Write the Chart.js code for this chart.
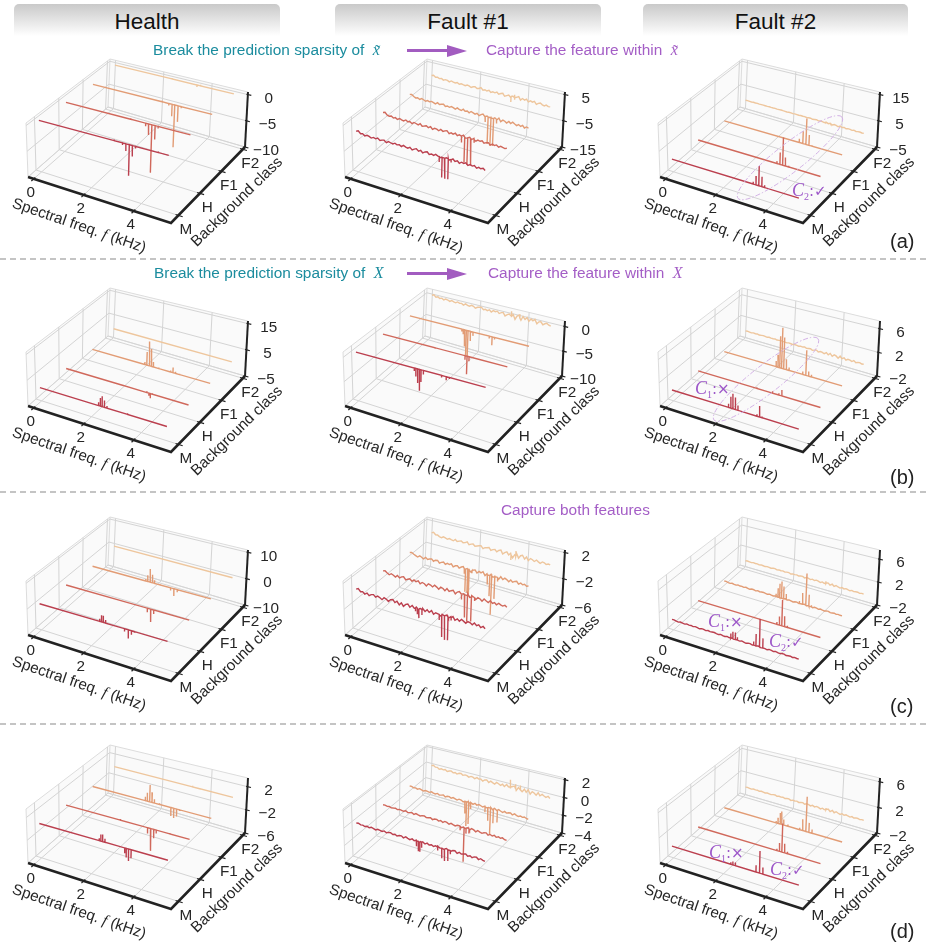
<!DOCTYPE html>
<html>
<head>
<meta charset="utf-8">
<script src="https://cdn.jsdelivr.net/npm/chart.js@4"></script>
<style>
  html, body { margin: 0; padding: 0; background: #fff; }
  body { position: relative; width: 926px; height: 944px; overflow: hidden; font-family: "Liberation Sans", Arial, sans-serif; }
  canvas { position: absolute; }
  .head { position: absolute; top: 4px; height: 32px; line-height: 36px; text-align: center; font-size: 22.5px; color: #111;
    border-radius: 5px 5px 0 0; background: linear-gradient(#c9c9c9, #fff); }
  .sep { position: absolute; left: 0; width: 926px; height: 0; border-top: 2px dashed #c4c4c4; }
  .cap { position: absolute; font-size: 15.4px; line-height: 18px; white-space: nowrap; transform: translateY(-50%); }
  .teal { color: #1b8c9e; }
  .pur { color: #a45ec6; }
  .cap i { font-family: "Liberation Serif", serif; font-size: 16px; }
  .line { position: absolute; left: 407px; width: 40px; height: 3px; background: #a25cc0; }
  .tip { position: absolute; left: 447px; width: 0; height: 0; border-left: 20px solid #a25cc0; border-top: 6px solid transparent; border-bottom: 6px solid transparent; }
  .tag { position: absolute; left: 890px; font-size: 20px; color: #222; transform: translateY(-50%); }
  .note { position: absolute; font-family: "DejaVu Sans", sans-serif; font-size: 15px; color: #9d57c9; white-space: nowrap; transform: translateY(-50%); }
  .note i { font-family: "Liberation Serif", serif; font-size: 18px; }
  .note sub { font-family: "Liberation Serif", serif; font-size: 10px; }
</style>
</head>
<body>
<div class="head" style="left:14px;width:266px">Health</div>
<div class="head" style="left:335px;width:266px">Fault #1</div>
<div class="head" style="left:643px;width:265px">Fault #2</div>

<div class="sep" style="top:258px"></div>
<div class="sep" style="top:491px"></div>
<div class="sep" style="top:723px"></div>

<div class="cap teal" style="left:153px;top:50px">Break the prediction sparsity of &nbsp;<i>x&#771;</i></div>
<div class="line" style="top:49px"></div><div class="tip" style="top:45px"></div>
<div class="cap pur" style="left:486px;top:50px">Capture the feature within &nbsp;<i>x&#771;</i></div>
<div class="cap teal" style="left:154px;top:273px">Break the prediction sparsity of &nbsp;<i>X</i></div>
<div class="line" style="top:272px"></div><div class="tip" style="top:268px"></div>
<div class="cap pur" style="left:488px;top:273px">Capture the feature within &nbsp;<i>X</i></div>
<div class="cap pur" style="left:501px;top:510px">Capture both features</div>

<div class="tag" style="top:241px">(a)</div>
<div class="tag" style="top:477px">(b)</div>
<div class="tag" style="top:706px">(c)</div>
<div class="tag" style="top:931px">(d)</div>

<div class="note" style="left:792px;top:191px"><i>C</i><sub>2</sub>:&#10003;</div>
<div class="note" style="left:695px;top:389px"><i>C</i><sub>1</sub>:&#215;</div>
<div class="note" style="left:708px;top:622px"><i>C</i><sub>1</sub>:&#215;</div>
<div class="note" style="left:769px;top:642px"><i>C</i><sub>2</sub>:&#10003;</div>
<div class="note" style="left:709px;top:853px"><i>C</i><sub>1</sub>:&#215;</div>
<div class="note" style="left:770px;top:870px"><i>C</i><sub>2</sub>:&#10003;</div>

<script>
const freqTicks = [0, 2, 4];
const classLabels = ["M", "H", "F1", "F2"];
const classColors = ["#bb3f4e", "#d0685b", "#e29c75", "#eec69d"];

// spectrum peaks, [freq kHz, amplitude]
const a1M = [[3.22, -0.4], [3.35, -1.3], [3.48, -5.7], [3.6, -2], [3.72, -0.4], [2.9, 0.2], [4.6, 0.2]];
const a1H = [[3.2, -0.6], [3.32, -2.1], [3.45, -9], [3.58, -2.6], [3.7, -0.4], [2.6, 0.2]];
const a1F1 = [[3.18, -0.4], [3.32, -2.3], [3.43, -8.2], [3.57, -3.1], [3.7, -0.3], [2.9, 0.2]];
const a1F2 = [[3.45, -0.4], [3.6, 0.2], [2.4, 0.2]];

const a2M = [[3.22, -2], [3.33, -7.4], [3.44, -7.6], [3.57, -7.4], [3.68, -1]];
const a2H = [[3.17, -2.4], [3.3, -9.6], [3.42, -10.2], [3.55, -10], [3.68, -1.2]];
const a2F1 = [[3.18, -2.2], [3.3, -10.4], [3.42, -10.8], [3.53, -10.6], [3.65, -1.6]];
const a2F2 = [[3.35, -2], [3.5, 1.2]];

const a3M = [[3.2, 0.8], [3.31, 3.3], [3.42, 7.2], [3.54, 3.6], [3.65, 0.8]];
const a3H = [[3.22, 0.9], [3.34, 4.5], [3.45, 10.4], [3.56, 3.2], [3.7, 0.5]];
const a3F1 = [[3.18, 1.5], [3.33, 4.8], [3.46, 10], [3.59, 4], [3.72, 0.4]];
const a3F2 = [[3.4, 0.5], [3.6, 0.4]];

const b1M = [[2.31, 1.2], [2.38, 3], [2.45, 3.9], [2.54, 2.6], [2.64, 0.8], [3.45, 0.4]];
const b1H = [[2.3, 0.3], [3.3, 0.5], [3.38, -1], [3.44, -1.8], [3.52, 0.3]];
const b1F1 = [[2.23, 1], [2.31, 5.2], [2.41, 9.6], [2.5, 6.9], [2.59, 2], [2.82, 0.4], [3.32, 0.6], [3.42, 2], [3.53, 0.6], [3.7, 0.3]];
const b1F2 = [];

const b2M = [[2.25, -0.6], [2.31, -1.6], [2.38, -2.8], [2.45, -4.2], [2.51, -2.4], [2.6, -0.8], [3.3, -0.4], [3.48, -0.7], [3.6, -0.3]];
const b2H = [[2.1, -0.2], [3.3, -0.8], [3.38, -3.6], [3.46, -0.9]];
const b2F1 = [[2.18, -0.5], [2.24, -1], [2.3, -3.5], [2.37, -5.2], [2.44, -5.4], [2.54, -2], [2.65, -0.8], [3.33, -0.5], [3.45, -1.7], [3.55, -0.4]];
const b2F2 = [[3.35, 1], [3.7, 0.8]];

const b3M = [[2.23, 0.6], [2.32, 1.9], [2.4, 2.5], [2.5, 2], [2.6, 0.8], [3.35, 0.3], [3.45, 1.8], [3.55, 0.2]];
const b3H = [[2.4, 0.2], [3.04, 0.3], [3.3, 0.3], [3.42, 1]];
const b3F1 = [[2.2, 1], [2.28, 2.2], [2.35, 5.5], [2.43, 7.1], [2.52, 5.5], [2.63, 1.8], [2.75, 0.5], [3.33, 0.5], [3.46, 4.3], [3.58, 0.8], [3.7, 0.4]];
const b3F2 = [];

const c1M = [[2.35, 1], [2.42, 2.5], [2.49, 2.5], [2.58, 1.2], [3.32, -1], [3.47, -3.2], [3.59, -1.5], [3.7, -0.4]];
const c1H = [[3.3, -1.5], [3.44, -4.8], [3.56, -1.5]];
const c1F1 = [[2.25, 0.8], [2.33, 2.5], [2.43, 5.2], [2.53, 3.2], [2.62, 1.2], [2.85, 0.3], [3.3, -1], [3.44, -2.8], [3.58, -1]];
const c1F2 = [];

const c2M = [[2.3, -0.5], [2.37, -0.9], [2.43, -1.4], [2.55, -0.8], [3.22, -0.8], [3.32, -3.2], [3.43, -3.5], [3.56, -3.4], [3.68, -0.4]];
const c2H = [[3.17, -0.8], [3.3, -3.4], [3.41, -3.9], [3.57, -3.7], [3.7, -0.5]];
const c2F1 = [[2.3, -0.8], [2.35, -3.6], [2.44, -3.7], [2.5, -3.8], [2.62, -0.4], [3.27, -1.5], [3.37, -3.2], [3.45, -6], [3.58, -3.4], [3.7, -0.6]];
const c2F2 = [[3.35, -0.8], [3.55, 0.8]];

const c3M = [[2.32, 0.8], [2.4, 1.2], [2.5, 1.2], [2.58, 0.5], [3.22, 0.6], [3.31, 2], [3.45, 4.7], [3.58, 1.6]];
const c3H = [[3.22, 0.4], [3.32, 1.5], [3.42, 4.5], [3.53, 1.8], [3.65, 0.3]];
const c3F1 = [[2.2, 0.5], [2.28, 1.6], [2.35, 2.5], [2.43, 3], [2.52, 2.2], [2.63, 1], [3.19, 0.4], [3.32, 2], [3.46, 5.6], [3.59, 2], [3.7, 0.3]];
const c3F2 = [[3.4, 0.4]];

const d1M = [[2.33, 0.4], [2.39, 1.1], [2.46, 1.2], [2.55, 0.6], [3.32, -0.9], [3.38, -1.5], [3.47, -2], [3.57, -1.4]];
const d1H = [[3.3, -1], [3.43, -3.8], [3.55, -1.5], [3.65, -0.6], [2.2, 0.2], [4.2, 0.15]];
const d1F1 = [[2.22, 0.7], [2.3, 1.5], [2.4, 3], [2.5, 1.8], [2.6, 0.7], [2.82, 0.2], [3.3, -1.5], [3.42, -1.7], [3.54, -1.3], [3.66, -0.2]];
const d1F2 = [[3.3, 0.2], [3.6, 0.15]];

const d2M = [[2.34, -0.6], [2.41, -1.1], [2.47, -1.1], [2.54, -0.6], [3.16, -0.4], [3.32, -1.1], [3.43, -1.3], [3.56, -1.2], [3.65, -0.4]];
const d2H = [[3.12, -0.4], [3.28, -3.8], [3.36, -0.6], [3.48, -0.5]];
const d2F1 = [[2.33, -1.4], [2.4, -2.8], [2.49, -2.5], [2.57, -0.7], [3.18, -0.6], [3.3, -1.5], [3.41, -3], [3.53, -1.6], [3.7, -1.4]];
const d2F2 = [[3.33, 0.9], [3.55, 0.5], [3.75, 0.5]];

const d3M = [[2.32, 0.3], [2.4, 0.5], [2.5, 0.5], [3.31, 1], [3.45, 3.3], [3.58, 1]];
const d3H = [[3.22, 0.3], [3.32, 1.3], [3.42, 4.4], [3.53, 1.4], [3.65, 0.3]];
const d3F1 = [[2.2, 0.3], [2.28, 0.9], [2.37, 1.8], [2.43, 2.1], [2.52, 0.9], [2.7, 0.3], [3.2, 0.3], [3.32, 1.8], [3.46, 5.5], [3.59, 1.5], [3.72, 0.6]];
const d3F2 = [[3.4, 0.3]];

// low level ripple of the noisy traces, one value per noiseFreq entry
const noiseFreq = [0, 0.08, 0.17, 0.25, 0.33, 0.42, 0.5, 0.58, 0.67, 0.75, 0.83, 0.92, 1, 1.08, 1.17, 1.25, 1.33, 1.42, 1.5, 1.58, 1.67, 1.75, 1.83, 1.92, 2, 2.08, 2.17, 2.25, 2.33, 2.42, 2.5, 2.58, 2.67, 2.75, 2.83, 2.92, 3, 3.08, 3.17, 3.25, 3.33, 3.42, 3.5, 3.58, 3.67, 3.75, 3.83, 3.92, 4, 4.08, 4.17, 4.25, 4.33, 4.42, 4.5, 4.58, 4.67, 4.75, 4.83, 4.92, 5];
const flat = [];

const a2NoiseM = [0.7, 1.1, 0.2, 0.5, -0.2, 0.3, 0.1, -0.3, 0.2, -0.1, 0.4, -0.3, 0.1, 0.3, -0.4, 0.2, 0, -0.2, 0.3, -0.1, 0.2, -0.3, 0.4, 0, -0.2, 0.3, -0.4, 0.1, 0.5, -0.2, 0.3, -0.4, 0.2, 0.5, -0.3, 0.1, -0.2, 0.4, 0, -0.3, 0.2, -0.1, 0.3, -0.4, 0.1, 0.5, -0.2, 0.3, -0.4, 0.2, 0, 0.4, -0.3, 0.2, -0.1, 0.3, -0.4, 0.1, -0.2, 0.2, -0.4];
const a2NoiseH = [0.9, 1.2, 0.3, 0.1, 0.4, -0.2, 0.2, -0.3, 0.3, 0, -0.2, 0.4, -0.1, 0.2, -0.4, 0.3, 0.1, -0.2, 0.5, -0.3, 0, 0.3, -0.2, 0.4, -0.4, 0.2, 0.1, -0.3, 0.4, -0.1, 0.3, 0.6, -0.3, 0.2, -0.1, 0.5, -0.2, 0.3, 0, 0.6, -0.3, 0.2, 0.4, -0.2, 0.5, -0.4, 0.2, 0, 0.4, -0.3, 0.1, 0.3, -0.4, 0.2, -0.1, 0.3, -0.3, 0.2, 0, -0.2, 0.1];
const a2NoiseF1 = [0.8, 1, 0.4, 0, 0.3, -0.2, 0.4, 0.1, -0.3, 0.2, -0.1, 0.3, 0, -0.3, 0.4, -0.1, 0.2, 0.4, -0.3, 0.1, -0.2, 0.3, 0.1, -0.3, 0.4, 0, -0.2, 0.5, -0.1, 0.2, -0.3, 0.4, 0.1, -0.2, 0.3, -0.4, 0.2, 0.6, -0.2, 0.3, 0, 0.5, -0.1, 0.4, -0.3, 0.7, -0.5, 0.3, 0.1, -0.4, 0.4, -0.2, 0.5, 0, -0.4, 0.2, -0.3, 0.3, -0.5, 0.1, -0.2];
const a2NoiseF2 = [0.5, 0.8, 0.2, 0.4, 0, 0.3, -0.2, 0.2, 0.1, -0.3, 0.3, 0, -0.1, 0.3, -0.2, 0.2, 0, -0.2, 0.3, 0.1, -0.3, 0.2, 0.4, -0.1, 0.1, 0.7, -0.2, 0.2, -0.1, 0.4, -0.3, 0.2, 0, 0.5, -0.2, 0.3, 0.6, -0.4, 0.1, 0.5, -0.2, 0.5, -0.8, 0.4, 0.9, -0.3, 0.5, 0.1, 0.7, -0.2, 0.4, 0.1, 0.6, -0.4, 0.2, 0.5, 0, -0.2, 0.3, -0.1, 0];

const b2NoiseF2 = [0.3, 0.5, 0.1, 0.3, 0, 0.2, -0.1, 0.2, 0.1, -0.1, 0.2, 0, -0.1, 0.2, 0, 0.1, -0.2, 0.2, 0, -0.1, 0.2, 0.1, -0.2, 0.1, 0.2, 0.3, -0.1, 0.1, -0.1, 0.2, -0.2, 0.2, 0.1, 0.3, -0.1, 0.2, 0.3, -0.3, 0.1, 0.3, 0, 0.4, -0.5, 0.3, 0.6, -0.4, 0.5, 0, 0.5, -0.2, 0.4, 0.1, 0.5, -0.3, 0.2, 0.3, -0.2, 0.1, 0.3, 0, -0.1];
const b3NoiseF2 = [0, 0.05, 0, -0.05, 0.05, 0, 0.05, -0.05, 0, 0.05, 0, -0.05, 0.05, 0, 0, 0.05, -0.05, 0, 0.05, 0, 0, -0.05, 0.05, 0, -0.05, 0.05, 0, -0.05, 0.05, 0, 0.1, -0.05, 0.05, 0.1, -0.1, 0.05, 0.15, -0.1, 0.1, 0.05, -0.1, 0.2, -0.1, 0.25, -0.15, 0.2, 0.1, -0.2, 0.25, -0.1, 0.15, -0.15, 0.1, 0.05, -0.1, 0.15, -0.1, 0.05, 0.1, -0.05, 0];

const c2NoiseM = [0.3, 0.5, 0.1, 0.2, -0.1, 0.15, -0.15, 0.1, 0.2, -0.1, 0.15, 0, -0.2, 0.2, 0.05, -0.2, 0.15, 0.3, -0.1, 0.2, -0.25, 0.15, -0.3, 0.1, 0.25, -0.15, 0.2, -0.1, 0.15, -0.25, 0.1, 0.2, -0.15, 0.2, -0.1, 0.25, -0.2, 0.1, 0.05, -0.2, 0.15, 0, 0.2, -0.15, 0.15, 0.25, -0.2, 0.1, -0.15, 0.2, 0, -0.2, 0.15, 0.05, -0.15, 0.2, -0.1, 0.1, -0.2, 0.05, -0.2];
const c2NoiseH = [0.3, 0.4, 0.15, -0.05, 0.2, 0.05, -0.15, 0.2, -0.1, 0.15, 0.25, -0.15, 0.05, 0.2, -0.1, 0.2, 0, 0.25, -0.15, 0.15, 0.05, -0.2, 0.2, 0.1, -0.1, 0.25, 0.05, -0.2, 0.2, 0.1, -0.15, 0.25, -0.1, 0.1, 0.25, -0.2, 0.15, 0.3, -0.1, 0.15, 0.05, 0.3, -0.15, 0.2, 0.05, -0.2, 0.15, 0.05, -0.2, 0.2, 0, -0.15, 0.2, -0.1, 0.1, -0.15, 0.15, 0, -0.1, 0.1, -0.1];
const c2NoiseF1 = [0.3, 0.4, 0.2, 0.05, -0.1, 0.2, 0.05, -0.15, 0.2, -0.05, 0.1, 0.2, -0.1, 0.15, 0.2, -0.15, 0.05, 0.2, -0.1, 0.15, 0.05, 0.25, -0.15, 0.1, 0.2, -0.1, 0.15, 0.3, -0.1, 0.15, 0.2, -0.25, 0.15, 0.25, -0.15, 0.2, 0.05, 0.3, -0.2, 0.15, 0, 0.25, -0.1, 0.2, 0.05, -0.2, 0.25, -0.1, 0.2, 0.05, -0.2, 0.15, -0.1, 0.1, 0.2, -0.15, 0.1, -0.1, 0.05, -0.15, -0.05];
const c2NoiseF2 = [0.3, 0.5, 0.15, 0.2, 0, -0.1, 0.15, 0.05, -0.1, 0.1, 0, -0.1, 0.2, -0.05, 0.1, 0.2, 0, 0.1, 0.3, -0.1, 0.1, 0.2, -0.1, 0.05, 0.15, 0.25, -0.15, 0.1, 0.15, 0.3, -0.1, 0.1, 0.2, -0.1, 0.2, 0.35, -0.2, 0.1, 0.3, -0.1, 0.25, -0.4, 0.15, 0.45, -0.2, 0.25, 0.4, -0.1, 0.3, -0.2, 0.2, 0.1, -0.1, 0.2, 0, -0.15, 0.15, 0.1, -0.1, 0.05, 0];

const d2NoiseM = [0.08, 0.12, 0, 0.05, -0.05, 0.05, -0.05, 0.08, 0, -0.08, 0.05, 0, -0.05, 0.08, -0.05, 0.05, 0.08, -0.05, 0.05, -0.08, 0.05, 0.08, -0.08, 0.1, 0, -0.08, 0.08, -0.05, 0.08, -0.08, 0.05, 0.08, -0.08, 0.08, -0.05, 0.05, -0.08, 0.05, 0.08, -0.05, 0, -0.08, 0.1, 0, -0.08, 0.08, 0.12, -0.1, 0.08, -0.05, 0.05, 0.1, -0.08, 0.05, -0.1, 0.05, 0.08, -0.1, 0.05, -0.05, -0.1];
const d2NoiseH = [0.05, 0.08, 0, 0.05, -0.05, 0, 0.05, -0.05, 0.05, 0, -0.05, 0.08, -0.05, 0, 0.05, -0.08, 0.08, 0, -0.05, 0.05, 0.08, -0.05, 0, 0.08, -0.08, 0.05, 0.08, -0.05, 0.08, -0.08, 0.1, 0.05, -0.08, 0.08, 0, -0.08, 0.05, 0.08, -0.08, 0.05, -0.05, 0.1, -0.1, 0.12, 0.05, -0.1, 0.1, 0, -0.08, 0.05, 0.1, -0.1, 0.05, -0.05, 0.08, -0.08, 0.05, -0.05, 0.05, -0.08, -0.1];
const d2NoiseF1 = [0.08, 0.1, 0, 0.05, -0.05, 0.08, 0, -0.08, 0.05, 0, -0.05, 0.08, 0, -0.05, 0.08, -0.05, 0, 0.08, -0.08, 0.05, 0.08, -0.05, 0.08, 0, -0.08, 0.08, 0.05, -0.08, 0.08, 0.05, -0.05, 0.08, -0.08, 0.1, -0.05, 0.08, 0, -0.08, 0.08, -0.05, 0.05, 0.1, -0.1, 0.12, -0.05, 0.1, 0, -0.1, 0.08, -0.05, 0.05, 0.08, -0.08, 0.1, 0, -0.08, 0.05, -0.05, 0.05, -0.05, -0.1];
const d2NoiseF2 = [0.15, 0.25, 0.08, 0.12, -0.05, 0.08, 0, 0.1, -0.08, 0.05, 0.12, -0.05, 0.05, -0.08, 0.08, 0.12, -0.05, 0.08, 0.05, -0.08, 0.08, 0.05, -0.08, 0.12, 0, 0.08, -0.12, 0.08, 0.15, -0.1, 0.12, 0, -0.1, 0.15, 0.05, -0.08, 0.12, -0.1, 0.2, 0, -0.15, 0.15, 0.25, -0.2, 0.2, 0.3, -0.15, 0.2, -0.1, 0.25, -0.2, 0.15, 0.05, -0.15, 0.2, -0.1, 0.12, 0, -0.1, 0.08, -0.1];

const c3NoiseF2 = [0, 0.05, 0, -0.05, 0.05, 0, 0.05, -0.05, 0.05, 0, -0.05, 0.05, 0, -0.05, 0.05, 0.08, -0.05, 0.05, 0, 0.08, -0.05, 0.05, 0.08, -0.08, 0.05, 0, 0.08, -0.05, 0.05, 0.1, -0.08, 0.1, 0.05, -0.08, 0.1, -0.05, 0.12, 0.05, -0.1, 0.1, -0.05, 0.15, 0.2, -0.1, 0.2, -0.1, 0.15, 0, -0.1, 0.1, -0.05, 0.1, 0, -0.08, 0.08, -0.05, 0.05, 0.05, -0.05, 0.05, 0];
const c3NoiseF1 = [0.08, 0.1, 0, -0.05, 0.08, 0, -0.05, 0.08, 0, 0.05, -0.05, 0.08, 0, -0.08, 0.08, 0.05, -0.05, 0.08, 0, 0.05, 0.08, 0, -0.05, 0.08, 0, -0.05, 0.08, 0, 0.08, -0.05, 0.05, 0.08, -0.05, 0.08, 0, -0.08, 0.05, 0.08, -0.05, 0, 0.05, 0.08, -0.05, 0.08, 0, -0.08, 0.08, 0.05, -0.05, 0.08, 0, -0.05, 0.05, 0.08, -0.05, 0, 0.05, -0.05, 0.05, 0, 0];

// panel rows a-d, columns Health / Fault #1 / Fault #2, zero is the trace baseline
const panels = [
  { row: 0, col: 0, zero: 0, zLim: [-10, 0.5], zTicks: [-10, -5, 0], peaks: [a1M, a1H, a1F1, a1F2], noise: [flat, flat, flat, flat] },
  { row: 0, col: 1, zero: 0, zLim: [-15, 6], zTicks: [-15, -5, 5], peaks: [a2M, a2H, a2F1, a2F2], noise: [a2NoiseM, a2NoiseH, a2NoiseF1, a2NoiseF2] },
  { row: 0, col: 2, zero: -0.2, zLim: [-5, 16], zTicks: [-5, 5, 15], peaks: [a3M, a3H, a3F1, a3F2], noise: [flat, flat, flat, b3NoiseF2] },
  { row: 1, col: 0, zero: 0, zLim: [-5, 16], zTicks: [-5, 5, 15], peaks: [b1M, b1H, b1F1, b1F2], noise: [flat, flat, flat, flat] },
  { row: 1, col: 1, zero: 0, zLim: [-10, 1.1], zTicks: [-10, -5, 0], peaks: [b2M, b2H, b2F1, b2F2], noise: [flat, flat, flat, b2NoiseF2] },
  { row: 1, col: 2, zero: -0.2, zLim: [-2, 7.3], zTicks: [-2, 2, 6], peaks: [b3M, b3H, b3F1, b3F2], noise: [flat, flat, flat, b3NoiseF2] },
  { row: 2, col: 0, zero: 0, zLim: [-10, 10.9], zTicks: [-10, 0, 10], peaks: [c1M, c1H, c1F1, c1F2], noise: [flat, flat, flat, flat] },
  { row: 2, col: 1, zero: 0, zLim: [-6, 2.4], zTicks: [-6, -2, 2], peaks: [c2M, c2H, c2F1, c2F2], noise: [c2NoiseM, c2NoiseH, c2NoiseF1, c2NoiseF2] },
  { row: 2, col: 2, zero: -0.3, zLim: [-2, 7.6], zTicks: [-2, 2, 6], peaks: [c3M, c3H, c3F1, c3F2], noise: [c3NoiseF1, flat, c3NoiseF1, c3NoiseF2] },
  { row: 3, col: 0, zero: 0, zLim: [-6, 3.5], zTicks: [-6, -2, 2], peaks: [d1M, d1H, d1F1, d1F2], noise: [flat, flat, flat, flat] },
  { row: 3, col: 1, zero: -0.1, zLim: [-4, 2.2], zTicks: [-4, -2, 0, 2], peaks: [d2M, d2H, d2F1, d2F2], noise: [d2NoiseM, d2NoiseH, d2NoiseF1, d2NoiseF2] },
  { row: 3, col: 2, zero: -0.2, zLim: [-2, 6.6], zTicks: [-2, 2, 6], peaks: [d3M, d3H, d3F1, d3F2], noise: [flat, flat, flat, c3NoiseF2] },
];

const originX = [28, 344.7, 660];
const originY = [176.7, 405.7, 635, 863.3];
const canvasH = 207;
const localX = 28;
const localY = 122;

// 8 box corners in px around the front-left floor corner, [u][v][w]
const box = {
  "000": [0, 0], "100": [143, 46], "010": [80, -70], "110": [217, -30],
  "001": [-2, -54], "101": [146, -14], "011": [82, -118], "111": [220, -85],
};

function project(u, v, w) {
  let px = 0;
  let py = 0;
  for (const key in box) {
    const k = (key[0] === "1" ? u : 1 - u) * (key[1] === "1" ? v : 1 - v) * (key[2] === "1" ? w : 1 - w);
    px += k * box[key][0];
    py += k * box[key][1];
  }
  return { x: px + localX, y: py + localY };
}

const uOf = (f) => 0.04 + 0.175 * f;
const vOf = (c) => 0.1 + 0.29 * c;

// the real view has perspective, so 0 kHz of each trace starts a bit differently
const traceStartU = [0.03, 0.05, 0.07, 0.055];
const traceEndU = 0.915;
const traceU = (f, c) => traceStartU[c] + (traceEndU - traceStartU[c]) * f / 5;

function lineSet(data, color, width, extra) {
  return Object.assign({ data, borderColor: color, borderWidth: width, pointRadius: 0, showLine: true, tension: 0, fill: false }, extra);
}

function buildTrace(panel, c) {
  const wOf = (z) => (z + panel.zero - panel.zLim[0]) / (panel.zLim[1] - panel.zLim[0]);
  const ripple = panel.noise[c];
  const pts = [];
  if (ripple.length) {
    ripple.forEach((z, i) => pts.push([noiseFreq[i], z]));
  } else {
    pts.push([0, 0], [5, 0]);
  }
  panel.peaks[c].forEach(([f, z]) => pts.push([f - 0.001, 0], [f, z], [f + 0.001, 0]));
  pts.sort((a, b) => a[0] - b[0]);
  return pts.map(([f, z]) => project(traceU(f, c), vOf(c), wOf(z)));
}

function buildDatasets(panel) {
  const wOf = (z) => (z - panel.zLim[0]) / (panel.zLim[1] - panel.zLim[0]);
  const sets = [];
  const pane = "#fafafa";
  const grid = "#d4d4d4";
  const edge = "#dcdcdc";
  const ink = "#222222";

  // panes
  const shape = { fill: "shape", backgroundColor: pane };
  sets.push(lineSet([project(0, 0, 0), project(1, 0, 0), project(1, 1, 0), project(0, 1, 0), project(0, 0, 0)], "rgba(0,0,0,0)", 0, shape));
  sets.push(lineSet([project(0, 0, 0), project(0, 1, 0), project(0, 1, 1), project(0, 0, 1), project(0, 0, 0)], "rgba(0,0,0,0)", 0, shape));
  sets.push(lineSet([project(0, 1, 0), project(1, 1, 0), project(1, 1, 1), project(0, 1, 1), project(0, 1, 0)], "rgba(0,0,0,0)", 0, shape));

  // pane edges and grid
  sets.push(lineSet([project(0, 0, 0), project(0, 0, 1), project(0, 1, 1), project(1, 1, 1)], edge, 1));
  sets.push(lineSet([project(0, 1, 0), project(0, 1, 1)], edge, 1));
  sets.push(lineSet([project(0, 0, 0), project(0, 1, 0), project(1, 1, 0)], edge, 1));
  freqTicks.forEach((f) => {
    const u = uOf(f);
    sets.push(lineSet([project(u, 0, 0), project(u, 1, 0), project(u, 1, 1)], grid, 1));
  });
  classLabels.forEach((_, c) => {
    const v = vOf(c);
    sets.push(lineSet([project(1, v, 0), project(0, v, 0), project(0, v, 1)], grid, 1));
  });
  panel.zTicks.forEach((z) => {
    const w = wOf(z);
    sets.push(lineSet([project(0, 0, w), project(0, 1, w), project(1, 1, w)], grid, 1));
  });

  // axes and ticks
  sets.push(lineSet([project(0, 0, 0), project(1, 0, 0), project(1, 1, 0)], ink, 2.6));
  sets.push(lineSet([project(1, 1, 0), project(1, 1, 1)], ink, 2));
  freqTicks.forEach((f) => {
    const u = uOf(f);
    sets.push(lineSet([project(u, -0.03, 0), project(u, 0.02, 0)], ink, 1.2));
  });
  classLabels.forEach((_, c) => {
    const v = vOf(c);
    sets.push(lineSet([project(0.98, v, 0), project(1.03, v, 0)], ink, 1.2));
  });
  panel.zTicks.forEach((z) => {
    const w = wOf(z);
    sets.push(lineSet([project(0.99, 1, w), project(1.025, 1, w)], ink, 1.2));
  });

  // back to front so the M trace stays on top
  for (let c = classLabels.length - 1; c >= 0; c--) {
    sets.push(lineSet(buildTrace(panel, c), classColors[c], 1.4));
  }
  // chart.js paints the last dataset first
  return sets.reverse();
}

function textAt(ctx, str, x, y, angle) {
  ctx.save();
  ctx.translate(x, y);
  ctx.rotate(angle || 0);
  ctx.fillText(str, 0, 0);
  ctx.restore();
}

// tick labels, axis titles and the dash-dot selection ellipses
const labelPlugin = {
  id: "labels",
  afterDatasetsDraw(chart, args, opts) {
    const ctx = chart.ctx;
    const sx = chart.scales.x;
    const sy = chart.scales.y;
    const at = (p) => ({ x: sx.getPixelForValue(p.x), y: sy.getPixelForValue(p.y) });
    const panel = opts.panel;
    const wOf = (z) => (z - panel.zLim[0]) / (panel.zLim[1] - panel.zLim[0]);
    ctx.save();
    ctx.fillStyle = "#262626";
    ctx.font = '15.3px "Liberation Sans", Arial, sans-serif';
    ctx.textAlign = "center";
    ctx.textBaseline = "middle";
    freqTicks.forEach((f) => {
      const p = at(project(uOf(f), 0, 0));
      ctx.fillText(String(f), p.x - 3, p.y + 14);
    });
    classLabels.forEach((name, c) => {
      const p = at(project(1, vOf(c), 0));
      ctx.fillText(name, p.x + 7.5, p.y + 14.5);
    });
    panel.zTicks.forEach((z) => {
      const p = at(project(1, 1, wOf(z)));
      ctx.fillText(String(z).replace("-", "\u2212"), p.x + 21, p.y + 4);
    });

    textAt(ctx, "Background class", localX + 209, localY + 25, -44.4 * Math.PI / 180);

    // x title has a math italic f in the middle
    const left = "Spectral freq. ";
    const right = " (kHz)";
    const sans = '15.3px "Liberation Sans", Arial, sans-serif';
    const serif = 'italic 15.3px "Liberation Serif", serif';
    ctx.textAlign = "left";
    ctx.font = sans;
    const wl = ctx.measureText(left).width;
    const wr = ctx.measureText(right).width;
    ctx.font = serif;
    const wf = ctx.measureText("f").width;
    ctx.save();
    ctx.translate(localX + 51, localY + 49);
    ctx.rotate(18.9 * Math.PI / 180);
    const start = -(wl + wf + wr) / 2;
    ctx.font = sans;
    ctx.fillText(left, start, 0);
    ctx.fillText(right, start + wl + wf, 0);
    ctx.font = serif;
    ctx.fillText("f", start + wl, 0);
    ctx.restore();

    if (panel.ring) {
      ctx.beginPath();
      ctx.strokeStyle = "#d3b1e6";
      ctx.lineWidth = 1;
      ctx.setLineDash([5, 2, 1.5, 2]);
      ctx.ellipse(panel.ring[0], panel.ring[1], 66, 14, -38 * Math.PI / 180, 0, Math.PI * 2);
      ctx.stroke();
    }
    ctx.restore();
  },
};

panels[2].ring = [790 - 632, 157 - 55 + 0.7];
panels[5].ring = [766 - 632, 379 - 283.7];

panels.forEach((panel) => {
  const left = Math.round(originX[panel.col] - localX);
  const top = Math.round(originY[panel.row] - localY);
  const width = panel.col === 2 ? 926 - left : 316;
  const canvas = document.createElement("canvas");
  canvas.width = width;
  canvas.height = canvasH;
  canvas.style.left = left + "px";
  canvas.style.top = top + "px";
  document.body.insertBefore(canvas, document.body.firstChild);

  new Chart(canvas.getContext("2d"), {
    type: "scatter",
    data: { datasets: buildDatasets(panel) },
    options: {
      responsive: false,
      animation: false,
      layout: { padding: 0 },
      scales: {
        x: { type: "linear", display: false, min: 0, max: width },
        y: { type: "linear", display: false, min: 0, max: canvasH, reverse: true },
      },
      plugins: { legend: { display: false }, tooltip: { enabled: false }, labels: { panel } },
    },
    plugins: [labelPlugin],
  });
});
</script>
</body>
</html>
